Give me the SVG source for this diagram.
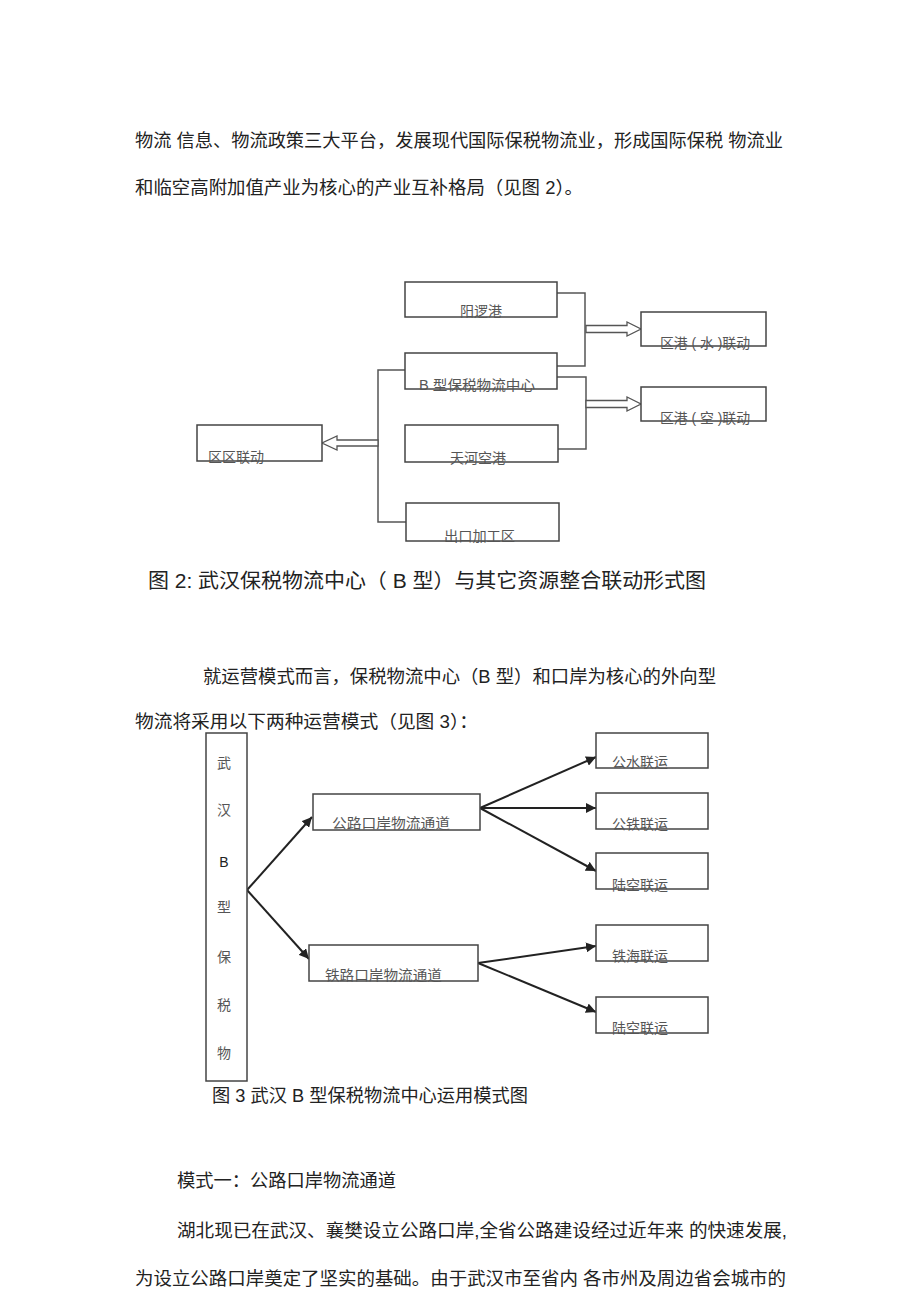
<svg xmlns="http://www.w3.org/2000/svg" width="920" height="1303" viewBox="0 0 920 1303">
<style>
.body{font-family:"Liberation Sans","Noto Sans CJK SC",sans-serif;font-size:18px;fill:#222}
.cap{font-family:"Liberation Sans","Noto Sans CJK SC",sans-serif;font-size:20px;fill:#222}
.lbl{font-family:"Liberation Sans","Noto Sans CJK SC",sans-serif;font-size:14px;fill:#555}
.box{fill:#fff;stroke:#444;stroke-width:1.5}
.conn{fill:none;stroke:#555;stroke-width:1.5}
.hollow{fill:#fff;stroke:#555;stroke-width:1.3}
.arr{fill:none;stroke:#222;stroke-width:2}
</style>
<defs>
<marker id="ah" viewBox="0 0 10 10" refX="10" refY="5" markerWidth="5" markerHeight="5" orient="auto" markerUnits="strokeWidth">
<path d="M0,0 L10,5 L0,10 z" fill="#222"/>
</marker>
</defs>
<rect width="920" height="1303" fill="#fff"/>

<g id="text-body">
<text class="body" x="135" y="147" textLength="648" lengthAdjust="spacingAndGlyphs">物流 信息、物流政策三大平台，发展现代国际保税物流业，形成国际保税 物流业</text>
<text class="body" x="135" y="194" textLength="448" lengthAdjust="spacingAndGlyphs">和临空高附加值产业为核心的产业互补格局（见图 2）。</text>
<text class="cap" x="148" y="588" textLength="558" lengthAdjust="spacingAndGlyphs">图 2:  武汉保税物流中心（  B 型）与其它资源整合联动形式图</text>
<text class="body" x="203" y="683" textLength="513" lengthAdjust="spacingAndGlyphs">就运营模式而言，保税物流中心（B 型）和口岸为核心的外向型</text>
<text class="body" x="135" y="728" textLength="343" lengthAdjust="spacingAndGlyphs">物流将采用以下两种运营模式（见图  3）：</text>
<text class="body" x="212" y="1102" textLength="316" lengthAdjust="spacingAndGlyphs">图 3 武汉 B 型保税物流中心运用模式图</text>
<text class="body" x="177" y="1187" textLength="219" lengthAdjust="spacingAndGlyphs">模式一：公路口岸物流通道</text>
<text class="body" x="177" y="1237" textLength="610" lengthAdjust="spacingAndGlyphs">湖北现已在武汉、襄樊设立公路口岸,全省公路建设经过近年来  的快速发展,</text>
<text class="body" x="135" y="1285" textLength="651" lengthAdjust="spacingAndGlyphs">为设立公路口岸奠定了坚实的基础。由于武汉市至省内 各市州及周边省会城市的</text>
</g>

<g id="fig2-connectors">
<polyline class="conn" points="557,293 585,293 585,366 557,366"/>
<polyline class="conn" points="557,377 586,377 586,449 558,449"/>
<polyline class="conn" points="405,370 378,370 378,522 406,522"/>
<polygon class="hollow" points="586,325.5 627,325.5 627,322 641,329 627,336 627,332.5 586,332.5"/>
<polygon class="hollow" points="586,400.5 627,400.5 627,397 641,404 627,411 627,407.5 586,407.5"/>
<polygon class="hollow" points="378,440 337,440 337,436 322,443 337,450 337,446 378,446"/>
</g>

<g id="n-yangluo"><rect class="box" x="405" y="282" width="152" height="35"/><text class="lbl" x="460" y="316">阳逻港</text></g>
<g id="n-btype"><rect class="box" x="405" y="353" width="152" height="36"/><text class="lbl" x="419" y="390" textLength="116" lengthAdjust="spacingAndGlyphs">B 型保税物流中心</text></g>
<g id="n-tianhe"><rect class="box" x="405" y="425" width="153" height="37"/><text class="lbl" x="450" y="463">天河空港</text></g>
<g id="n-export"><rect class="box" x="406" y="503" width="153" height="38"/><text class="lbl" x="444" y="541" textLength="71" lengthAdjust="spacingAndGlyphs">出口加工区</text></g>
<g id="n-ququ"><rect class="box" x="197" y="425" width="125" height="36"/><text class="lbl" x="208" y="462">区区联动</text></g>
<g id="n-water"><rect class="box" x="641" y="312" width="125" height="34"/><text class="lbl" x="660" y="348" textLength="90" lengthAdjust="spacingAndGlyphs">区港 ( 水 )联动</text></g>
<g id="n-air"><rect class="box" x="641" y="387" width="125" height="34"/><text class="lbl" x="660" y="423" textLength="90" lengthAdjust="spacingAndGlyphs">区港 ( 空 )联动</text></g>

<g id="fig3-connectors">
<line class="arr" x1="247" y1="890" x2="312" y2="817" marker-end="url(#ah)"/>
<line class="arr" x1="247" y1="890" x2="309" y2="959" marker-end="url(#ah)"/>
<line class="arr" x1="480" y1="808" x2="596" y2="757" marker-end="url(#ah)"/>
<line class="arr" x1="480" y1="808" x2="596" y2="808" marker-end="url(#ah)"/>
<line class="arr" x1="480" y1="808" x2="596" y2="871" marker-end="url(#ah)"/>
<line class="arr" x1="478" y1="963" x2="596" y2="946" marker-end="url(#ah)"/>
<line class="arr" x1="478" y1="963" x2="596" y2="1012" marker-end="url(#ah)"/>
</g>

<g id="n-wuhan">
<rect class="box" x="206" y="733" width="41" height="348"/>
<text class="lbl" x="224" y="768" text-anchor="middle">武</text>
<text class="lbl" x="224" y="815" text-anchor="middle">汉</text>
<text class="lbl" x="224" y="867" text-anchor="middle" style="fill:#222">B</text>
<text class="lbl" x="224" y="912" text-anchor="middle">型</text>
<text class="lbl" x="224" y="962" text-anchor="middle">保</text>
<text class="lbl" x="224" y="1010" text-anchor="middle">税</text>
<text class="lbl" x="224" y="1058" text-anchor="middle">物</text>
</g>
<g id="n-road"><rect class="box" x="313" y="794" width="167" height="36"/><text class="lbl" x="332" y="828" textLength="118" lengthAdjust="spacingAndGlyphs">公路口岸物流通道</text></g>
<g id="n-rail"><rect class="box" x="309" y="945" width="169" height="36"/><text class="lbl" x="325" y="980" textLength="117" lengthAdjust="spacingAndGlyphs">铁路口岸物流通道</text></g>
<g id="n-gongshui"><rect class="box" x="596" y="733" width="112" height="35"/><text class="lbl" x="612" y="767">公水联运</text></g>
<g id="n-gongtie"><rect class="box" x="596" y="793" width="112" height="36"/><text class="lbl" x="612" y="829">公铁联运</text></g>
<g id="n-lukong1"><rect class="box" x="596" y="853" width="112" height="36"/><text class="lbl" x="612" y="890">陆空联运</text></g>
<g id="n-tiehai"><rect class="box" x="596" y="925" width="112" height="36"/><text class="lbl" x="612" y="961">铁海联运</text></g>
<g id="n-lukong2"><rect class="box" x="596" y="997" width="112" height="36"/><text class="lbl" x="612" y="1033">陆空联运</text></g>
</svg>
